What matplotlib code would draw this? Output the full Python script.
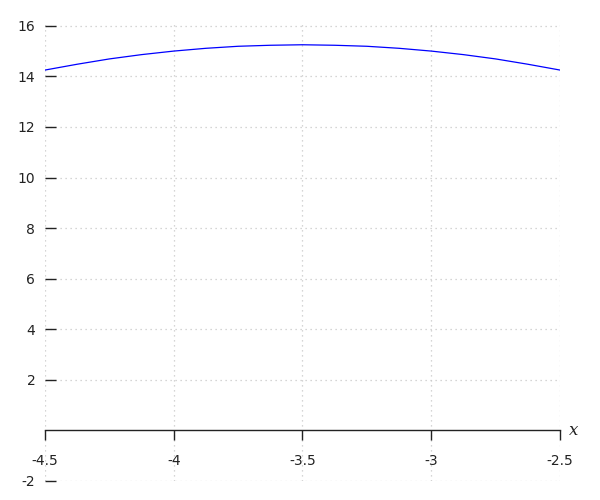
import matplotlib
matplotlib.use("Agg")
import matplotlib.pyplot as plt

plt.rcParams['axes.unicode_minus'] = False

x_vals = [-4.5, -4.375, -4.25, -4.125, -4.0, -3.875, -3.75, -3.625, -3.5,
          -3.375, -3.25, -3.125, -3.0, -2.875, -2.75, -2.625, -2.5]
y_vals = [14.25, 14.48, 14.69, 14.86, 15.0, 15.11, 15.19, 15.23, 15.25,
          15.23, 15.19, 15.11, 15.0, 14.86, 14.69, 14.48, 14.25]
x_ticks = [-4.5, -4, -3.5, -3, -2.5]
x_tick_labels = ["-4.5", "-4", "-3.5", "-3", "-2.5"]
y_ticks = [-2, 2, 4, 6, 8, 10, 12, 14, 16]
y_tick_labels = ["-2", "2", "4", "6", "8", "10", "12", "14", "16"]

fig = plt.figure(figsize=(6, 5), dpi=100)
ax = fig.add_axes([0.075, 0.038, 0.8583, 0.918])
ax.plot(x_vals, y_vals, color='blue', linewidth=0.9)
ax.set_xlim(-4.5, -2.5)
ax.set_ylim(-2, 16.15)

for s in ['top', 'right', 'left']:
    ax.spines[s].set_visible(False)
ax.spines['bottom'].set_position(('data', 0))
ax.spines['bottom'].set_linewidth(1.0)
ax.spines['bottom'].set_color('#222222')

ax.set_xticks(x_ticks)
ax.set_xticklabels(x_tick_labels)
ax.set_yticks(y_ticks)
ax.set_yticklabels(y_tick_labels)
ax.tick_params(axis='x', direction='out', length=7, width=1, pad=10,
               labelsize=10, colors='#222222')
ax.tick_params(axis='y', direction='in', length=8, width=1, pad=7,
               labelsize=10, colors='#222222')

ax.grid(True, color='#c8c8c8', linestyle=(0, (1, 3)), linewidth=0.9)
ax.set_axisbelow(True)

ax.text(1.018, 0, "x", transform=ax.get_yaxis_transform(), fontsize=12,
        family='serif', style='italic', va='center', ha='left', color='#222222')

fig.savefig("out.png", dpi=100)
